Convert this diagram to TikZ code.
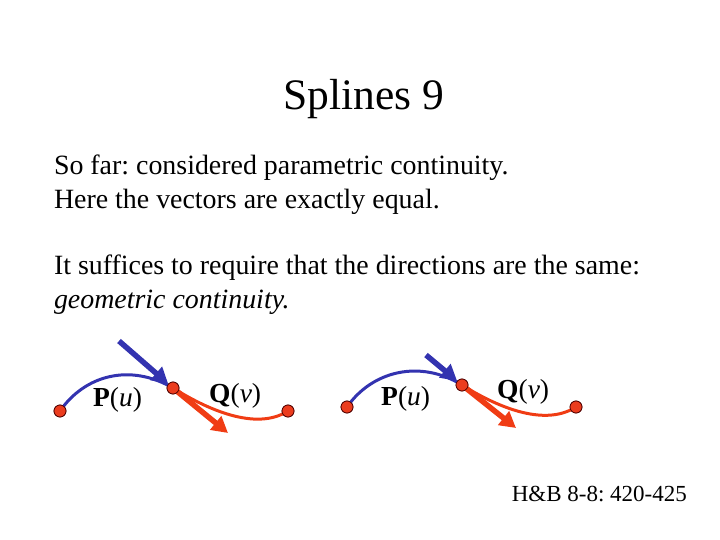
\documentclass[tikz,border=0pt]{standalone}
\usepackage{fontspec}
\setmainfont{Liberation Serif}
\usetikzlibrary{arrows.meta}
\definecolor{splineblue}{RGB}{51,51,176}
\definecolor{splinered}{RGB}{240,60,20}
\definecolor{dotred}{RGB}{235,60,30}
\tikzset{
  x=1pt,y=-1pt,
  txt/.style={anchor=base west,inner sep=0pt,outer sep=0pt,font=\fontsize{27.9}{27.9}\selectfont},
  title/.style={anchor=base,inner sep=0pt,font=\fontsize{43.5}{43.5}\selectfont},
  lab/.style={anchor=base west,inner sep=0pt,font=\fontsize{27.5}{27.5}\selectfont},
  ref/.style={anchor=base east,inner sep=0pt,font=\fontsize{23}{23}\selectfont},
  dot/.style={circle,draw=black!70!red,line width=0.7pt,fill=dotred,minimum size=12pt,inner sep=0pt},
  bluecurve/.style={draw=splineblue,line width=3pt},
  redcurve/.style={draw=splinered,line width=3pt},
  bluevec/.style={draw=splineblue,line width=5.5pt,-{Triangle[length=16pt,width=17pt]}},
  redvec/.style={draw=splinered,line width=5.5pt,-{Triangle[length=16pt,width=17pt]}}
}
\begin{document}
\frenchspacing
\begin{tikzpicture}
\useasboundingbox (0,0) rectangle (720,540);
\node[title] (t) at (363.5,110) {Splines 9};
\node[txt] (l1) at (54,175) {So far: considered parametric continuity.};
\node[txt] (l2) at (54,208) {Here the vectors are exactly equal.};
\node[txt] (l3) at (54,274) {It suffices to require that the directions are the same:};
\node[txt] (l4) at (54,308) {\textit{geometric continuity.}};
\node[ref] (r) at (687,501) {H\&B 8-8: 420-425};
% left pair
\coordinate (as) at (119,341);
\coordinate (ae) at (228,433);
\node[dot] (a0) at (60,411) {};
\node[dot] (a1) at (173,388) {};
\node[dot] (a2) at (288,411) {};
\draw[bluecurve] (a0.center) .. controls (85,375) and (130,363) .. (a1.center);
\draw[redcurve] (a1.center) .. controls (205,408) and (255,432) .. (a2.center);
\draw[bluevec] (as) -- (a1);
\draw[redvec] (a1.center) -- (ae);
\node[dot] at (a0) {};
\node[dot] at (a1) {};
\node[dot] at (a2) {};
\node[lab] (pa) at (93,406) {\textbf{P}(\textit{u})};
\node[lab] (qa) at (209,402) {\textbf{Q}(\textit{v})};
% right pair
\coordinate (bs) at (426,355);
\coordinate (be) at (516,428);
\node[dot] (b0) at (347,407) {};
\node[dot] (b1) at (462,385) {};
\node[dot] (b2) at (576,407) {};
\draw[bluecurve] (b0.center) .. controls (372,371) and (420,359) .. (b1.center);
\draw[redcurve] (b1.center) .. controls (494,405) and (543,428) .. (b2.center);
\draw[bluevec] (bs) -- (b1);
\draw[redvec] (b1.center) -- (be);
\node[dot] at (b0) {};
\node[dot] at (b1) {};
\node[dot] at (b2) {};
\node[lab] (pb) at (381,405) {\textbf{P}(\textit{u})};
\node[lab] (qb) at (497,398) {\textbf{Q}(\textit{v})};
\end{tikzpicture}
\end{document}
